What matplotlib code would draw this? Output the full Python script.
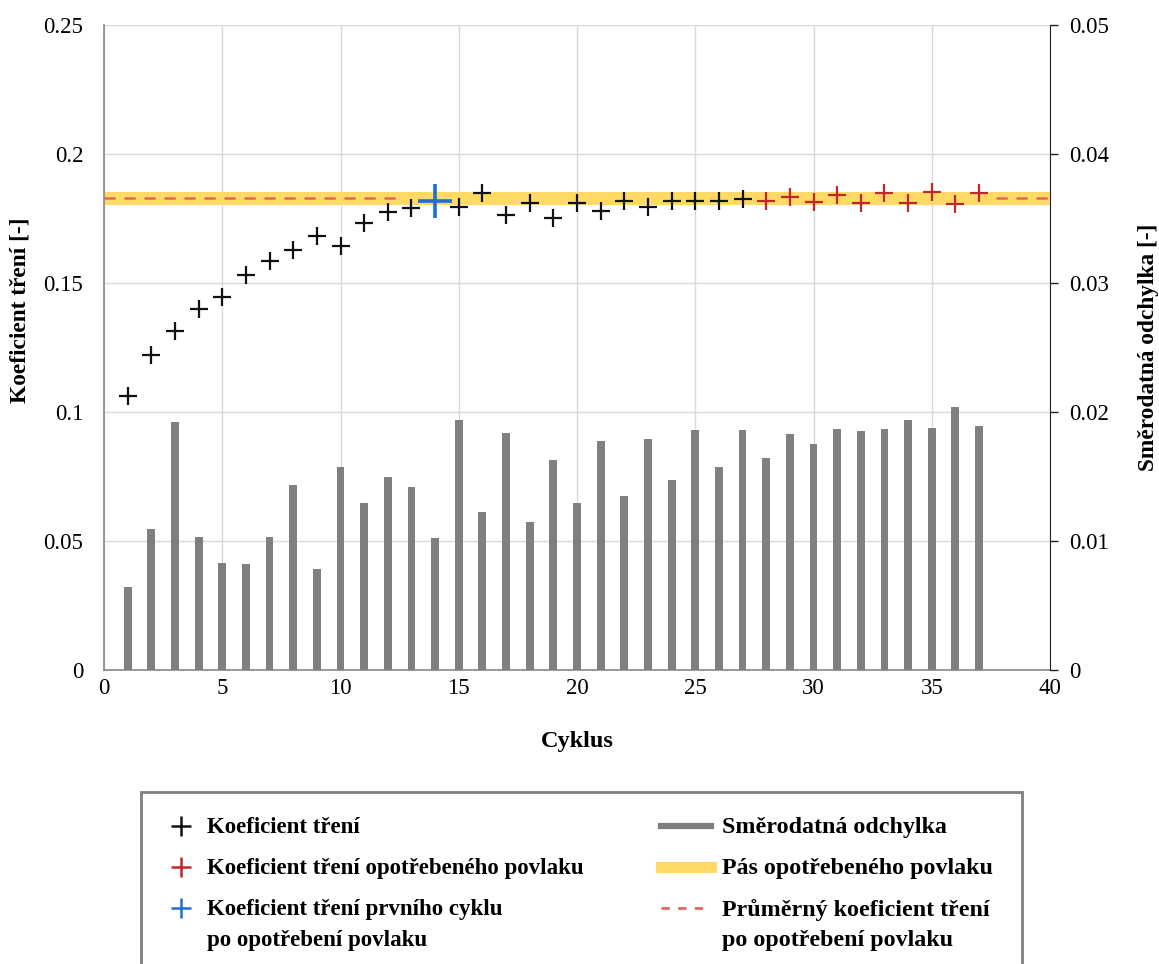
import matplotlib

matplotlib.use("Agg")
import matplotlib.pyplot as plt
from matplotlib.lines import Line2D
from matplotlib.patches import Rectangle
import numpy as np

plt.rcParams["font.family"] = ["Liberation Serif", "DejaVu Serif"]

# data
cycles = list(range(1, 38))
cof = [0.1062, 0.1220, 0.1315, 0.1398, 0.1444, 0.1532, 0.1585, 0.1627, 0.1683, 0.1645,
       0.1731, 0.1777, 0.1792, 0.1819, 0.1796, 0.1850, 0.1762, 0.1809, 0.1752, 0.1811,
       0.1780, 0.1819, 0.1793, 0.1819, 0.1818, 0.1818, 0.1824, 0.1818, 0.1834, 0.1814,
       0.1841, 0.1811, 0.1848, 0.1811, 0.1854, 0.1805, 0.1850]
std_dev = [0.00646, 0.0109, 0.01925, 0.01034, 0.00832, 0.00824, 0.01031, 0.01434, 0.00786, 0.01576,
           0.01292, 0.01494, 0.01419, 0.01021, 0.01935, 0.01222, 0.01835, 0.01145, 0.01628, 0.01292,
           0.01775, 0.01351, 0.01791, 0.01473, 0.0186, 0.01574, 0.0186, 0.01646, 0.01827, 0.01755,
           0.01871, 0.01855, 0.01866, 0.01938, 0.01879, 0.02036, 0.01889]
first_worn_cycle = 14
worn_from_cycle = 28
band_low, band_high = 0.1802, 0.1852
mean_worn = 0.1828
mean_line_spans = [(0, 12.45), (37.7, 40)]

x_ticks = [0, 5, 10, 15, 20, 25, 30, 35, 40]
y_ticks = [0, 0.05, 0.1, 0.15, 0.2, 0.25]
y2_ticks = [0, 0.01, 0.02, 0.03, 0.04, 0.05]

BLACK = "#111111"
RED = "#c0272d"
BLUE = "#1f6fd1"
BAR = "#7f7f7f"
BAND = "#ffd966"
DASH = "#e4685a"
GRID = "#d9d9d9"

cyc = np.array(cycles)
cof = np.array(cof)
is_first = cyc == first_worn_cycle
is_worn = cyc >= worn_from_cycle
is_plain = ~(is_first | is_worn)

fig = plt.figure(figsize=(11.59, 9.64), dpi=100)
ax = fig.add_axes([104 / 1159, 1 - 670 / 964, 946 / 1159, 645 / 964])
ax2 = ax.twinx()

# left axis: friction coefficient
ax.axhspan(band_low, band_high, color=BAND, lw=0, zorder=1)
for x0, x1 in mean_line_spans:
    ax.plot([x0, x1], [mean_worn, mean_worn], ls=(0, (4.5, 3.5)), color=DASH, lw=1.8, zorder=2)
ax.plot(cyc[is_plain], cof[is_plain], ls="none", marker="+", ms=13, mew=1.6, color=BLACK, zorder=3)
ax.plot(cyc[is_worn], cof[is_worn], ls="none", marker="+", ms=13, mew=1.6, color=RED, zorder=3)
ax.plot(cyc[is_first], cof[is_first], ls="none", marker="+", ms=25, mew=2.6, color=BLUE, zorder=4)

ax.set_xlim(0, 40)
ax.set_ylim(0, 0.25)
ax.set_xticks(x_ticks)
ax.set_yticks(y_ticks)
ax.set_yticklabels([f"{v:g}" for v in y_ticks])
ax.grid(True, color=GRID, lw=1)
ax.set_axisbelow(True)
ax.tick_params(axis="both", length=0, labelsize=16.5)
ax.tick_params(axis="y", pad=15)
ax.tick_params(axis="x", pad=6)
for side in ("top", "right"):
    ax.spines[side].set_visible(False)
ax.spines["left"].set_color("#888888")
ax.spines["bottom"].set_color("#888888")
ax.spines["left"].set_linewidth(1.2)
ax.spines["bottom"].set_linewidth(1.2)
ax.set_xlabel("Cyklus", fontsize=17.5, fontweight="bold")
ax.xaxis.set_label_coords(0.5, -0.095)
ax.set_ylabel("Koeficient tření [-]", fontsize=16.8, fontweight="bold")
ax.yaxis.set_label_coords(-0.078, 0.558)

# right axis: standard deviation
ax2.bar(cyc, std_dev, width=0.33, color=BAR, zorder=2)
ax2.set_ylim(0, 0.05)
ax2.set_yticks(y2_ticks)
ax2.set_yticklabels([f"{v:g}" for v in y2_ticks])
ax2.tick_params(axis="y", direction="out", length=6, width=1, color="#222222", labelsize=16.5, pad=8)
for side in ("top", "left", "bottom"):
    ax2.spines[side].set_visible(False)
ax2.spines["right"].set_color("#222222")
ax2.set_ylabel("Směrodatná odchylka [-]", fontsize=16.8, fontweight="bold")
ax2.yaxis.set_label_coords(1.093, 0.50)

# legend box (drawn by hand, runs off the bottom of the figure)
W, H = 1159, 964


def fx(px):
    return px / W


def fy(py):
    return 1 - py / H


fig.add_artist(Rectangle((fx(141), fy(975)), fx(881), 183 / H, transform=fig.transFigure,
                         fill=False, edgecolor="#7f7f7f", lw=2))

entries_left = [
    (dict(marker="+", color=BLACK), "Koeficient tření", 826),
    (dict(marker="+", color=RED), "Koeficient tření opotřebeného povlaku", 867),
    (dict(marker="+", color=BLUE), "Koeficient tření prvního cyklu\npo opotřebení povlaku", 908),
]
for style, label, py in entries_left:
    fig.add_artist(Line2D([fx(181)], [fy(py)], transform=fig.transFigure, ls="none",
                          ms=15, mew=1.8, **style))
    fig.text(fx(207), fy(py - 9), label, fontsize=16.5, fontweight="bold", va="top",
             ha="left", linespacing=1.62, transform=fig.transFigure)

entries_right = [
    (dict(color=BAR, lw=4.5, ls="-"), "Směrodatná odchylka", 826),
    (dict(color=BAND, lw=8, ls="-"), "Pás opotřebeného povlaku", 867),
    (dict(color=DASH, lw=2, ls=(0, (3, 3))), "Průměrný koeficient tření\npo opotřebení povlaku", 908),
]
for style, label, py in entries_right:
    fig.add_artist(Line2D([fx(661), fx(711)], [fy(py), fy(py)], transform=fig.transFigure, **style))
    fig.text(fx(722), fy(py - 9), label, fontsize=17.3, fontweight="bold", va="top",
             ha="left", linespacing=1.55, transform=fig.transFigure)

fig.savefig("out.png", dpi=100, facecolor="white")
